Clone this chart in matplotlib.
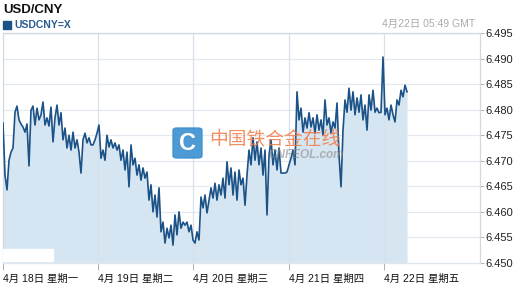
import numpy as np
import matplotlib
matplotlib.use("Agg")
import matplotlib.pyplot as plt
from matplotlib.patches import FancyBboxPatch, Rectangle

plt.rcParams['font.family'] = ['Liberation Sans', 'Noto Sans CJK SC', 'DejaVu Sans']

# USD/CNY quotes, one reading about every half hour starting 4/18 00:00
day1 = [6.4774, 6.4672, 6.4643, 6.4701, 6.4717, 6.4725, 6.4795, 6.4807, 6.4780, 6.4772,
        6.4766, 6.4756, 6.4772, 6.4690, 6.4799, 6.4807, 6.4770, 6.4803, 6.4780, 6.4790,
        6.4815, 6.4770, 6.4784, 6.4768, 6.4805, 6.4737, 6.4784, 6.4809, 6.4770, 6.4794,
        6.4741, 6.4764, 6.4725, 6.4750, 6.4721, 6.4756, 6.4725, 6.4741, 6.4717, 6.4676,
        6.4741, 6.4754, 6.4735, 6.4745, 6.4731, 6.4731, 6.4741, 6.4754]
day2 = [6.4770, 6.4705, 6.4721, 6.4701, 6.4750, 6.4727, 6.4741, 6.4725, 6.4735, 6.4721,
        6.4731, 6.4701, 6.4721, 6.4682, 6.4717, 6.4649, 6.4731, 6.4692, 6.4705, 6.4672,
        6.4692, 6.4662, 6.4686, 6.4666, 6.4678, 6.4623, 6.4653, 6.4600, 6.4633, 6.4590,
        6.4647, 6.4561, 6.4580, 6.4539, 6.4568, 6.4549, 6.4574, 6.4535, 6.4594, 6.4555,
        6.4600, 6.4568, 6.4580, 6.4574, 6.4580, 6.4561, 6.4574, 6.4545]
day3 = [6.4539, 6.4561, 6.4545, 6.4629, 6.4608, 6.4633, 6.4598, 6.4623, 6.4647, 6.4627,
        6.4656, 6.4623, 6.4653, 6.4633, 6.4666, 6.4627, 6.4698, 6.4653, 6.4686, 6.4633,
        6.4678, 6.4623, 6.4682, 6.4653, 6.4666, 6.4613, 6.4672, 6.4721, 6.4692, 6.4745,
        6.4701, 6.4737, 6.4692, 6.4725, 6.4672, 6.4721, 6.4594, 6.4711, 6.4741, 6.4692,
        6.4721, 6.4682, 6.4725, 6.4676, 6.4676, 6.4676, 6.4678, 6.4692]
day4 = [6.4705, 6.4721, 6.4692, 6.4835, 6.4780, 6.4803, 6.4756, 6.4784, 6.4764, 6.4794,
        6.4766, 6.4784, 6.4754, 6.4790, 6.4760, 6.4780, 6.4750, 6.4819, 6.4770, 6.4784,
        6.4754, 6.4776, 6.4764, 6.4813, 6.4711, 6.4649, 6.4760, 6.4819, 6.4795, 6.4842,
        6.4799, 6.4835, 6.4790, 6.4823, 6.4795, 6.4829, 6.4780, 6.4809, 6.4760, 6.4829,
        6.4799, 6.4838, 6.4795, 6.4803, 6.4794, 6.4795, 6.4903, 6.4790]
day5 = [6.4803, 6.4780, 6.4809, 6.4790, 6.4776, 6.4819, 6.4809, 6.4838, 6.4825, 6.4848,
        6.4835]

rates = np.array(day1 + day2 + day3 + day4 + day5)
hours = np.arange(len(rates)) * 0.504

day_labels = ['4月 18日 星期一', '4月 19日 星期二', '4月 20日 星期三',
              '4月 21日 星期四', '4月 22日 星期五']
day_starts = [0, 24, 48, 72, 96]
yticks = [6.450, 6.455, 6.460, 6.465, 6.470, 6.475, 6.480, 6.485, 6.490, 6.495]

W, H = 517, 288
fig = plt.figure(figsize=(W / 100, H / 100), dpi=100)
ax = fig.add_axes([3 / W, 25 / H, 477 / W, 230 / H])

line_c = '#1b5287'
fill_c = '#d5e5f1'
grid_c = '#e4e9f0'

ax.fill_between(hours, rates, 6.45, color=fill_c, lw=0, zorder=1)
ax.plot(hours, rates, color=line_c, lw=1.2, zorder=3)

ax.set_xlim(0, 120.2)
ax.set_ylim(6.450, 6.495)

ax.set_yticks(yticks)
ax.set_yticklabels(['%.3f' % v for v in yticks])
ax.yaxis.tick_right()
ax.tick_params(axis='y', length=3, width=0.6, color='#9aa5b0', labelsize=8,
               pad=1, labelcolor='#222222')
ax.set_xticks(day_starts)
ax.set_xticklabels(day_labels, ha='left')
ax.tick_params(axis='x', length=5, width=0.6, color='#9aa5b0', labelsize=7.5,
               pad=3, labelcolor='#111111')

for v in yticks:
    ax.axhline(v, color=grid_c, lw=0.9, zorder=0.5)
for d in day_starts[1:]:
    ax.axvline(d, color='#d6e1ec', lw=0.9, zorder=2)

for s in ax.spines.values():
    s.set_color('#d0d8e0')
    s.set_linewidth(0.9)
ax.spines['bottom'].set_color('#e0e6ee')

# titles
fig.text(3 / W, 1 - 10 / H, 'USD/CNY', fontsize=9.5, fontweight='bold',
         color='#111111', va='center', ha='left')
fig.patches.append(Rectangle((3 / W, 1 - 29 / H), 8 / W, 8 / H, transform=fig.transFigure,
                             color=line_c, figure=fig))
fig.text(14 / W, 1 - 25 / H, 'USDCNY=X', fontsize=7.5, fontweight='bold',
         color='#2a5c94', va='center', ha='left')
fig.text(475 / W, 1 - 24 / H, '4月22日 05:49 GMT', fontsize=7.5, color='#aaaaaa',
         va='center', ha='right')

# watermark
fig.patches.append(FancyBboxPatch((173 / W, 1 - 158 / H), 29 / W, 30 / H,
                                  boxstyle='round,pad=0,rounding_size=0.008',
                                  transform=fig.transFigure, color='#3b8fd0',
                                  alpha=0.9, figure=fig, zorder=5))
fig.text(187.5 / W, 1 - 143 / H, 'C', fontsize=17, fontweight='bold', color='white',
         ha='center', va='center', zorder=6)
fig.text(209 / W, 1 - 139 / H, '中国铁合金在线', fontsize=13.5, color='#f27a45',
         alpha=0.85, ha='left', va='center', zorder=6)
fig.text(268 / W, 1 - 155 / H, 'CNFEOL.com', fontsize=8.5, fontweight='bold',
         fontstyle='italic', color='#8a8a8a', alpha=0.6, ha='left', va='center', zorder=6)

# erased corner patch at bottom left
fig.patches.append(Rectangle((3 / W, 1 - 261 / H), 50 / W, 12 / H,
                             transform=fig.transFigure, color='white', figure=fig,
                             zorder=5))

fig.savefig('out.png', dpi=100)
